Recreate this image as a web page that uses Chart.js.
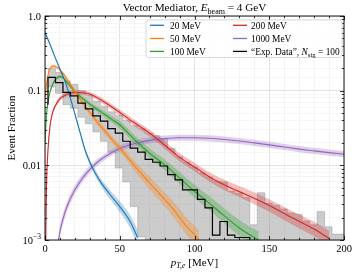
<!DOCTYPE html>
<html><head><meta charset="utf-8">
<script src="https://cdn.jsdelivr.net/npm/chart.js@4/dist/chart.umd.min.js"></script>
<style>html,body{margin:0;padding:0;background:#fff}</style>
</head><body>
<canvas id="c" width="357" height="275" style="width:357px;height:275px;display:block"></canvas>
<script>
// ---------------- data ----------------
const xTicks = [0, 50, 100, 150, 200];
const yTicks = [1, 0.1, 0.01, 0.001];
const yTickLabels = ['1.0', '0.1', '0.01', '10^-3'];

const binEdges = [2,7,12,17,22,27,32,37,42,47,52,57,62,67,72,77,82,87,92,97,102,107,112,117,122,127,132,137,142,147,152,157,162,167,172,177,182,187,192,197,202];
const expStart = 0.065;
const expData = [0.142,0.151,0.128,0.095,0.085,0.068,0.057,0.046,0.039,0.031,0.027,0.021,0.017,0.015,0.012,0.011,0.0098,0.0075,0.0064,0.0047,0.0047,0.0035,0.0027,0.00116,0.00177,0.00116,0.00108];
const grayHi = [0.19,0.20,0.175,0.135,0.122,0.10,0.087,0.072,0.062,0.052,0.047,0.040,0.034,0.031,0.027,0.025,0.023,0.017,0.013,0.011,0.0095,0.0079,0.0070,0.0061,0.0060,0.0045,0.0042,0.0037,0.0016,0.0043,0.0031,0.0029,0.0026,0.0023,0.0022,0.0018,0.0016,0.0024,0.0015,0.0012];
const grayLo = [0.105,0.112,0.092,0.065,0.058,0.044,0.036,0.028,0.021,0.015,0.0092,0.006,0.0028,0.0011,0,0,0,0,0,0,0,0,0,0,0,0,0,0,0,0,0,0,0,0,0,0,0,0,0,0];

const blueX = [0,3.3,6.7,10,13.3,16.7,20,23.3,26.7,30,33.3,36.7,43.3,50,56.7,62];
const blueY = [0.606,0.419,0.281,0.194,0.135,0.0825,0.0489,0.0283,0.0163,0.011,0.0081,0.0062,0.0041,0.0028,0.0018,0.00108];
const blueBand = [0.03,0.03,0.03,0.04,0.04,0.05,0.06,0.07,0.08,0.09,0.10,0.12,0.15,0.18,0.22,0.27];

const orangeX = [0,1,2,3,4.5,6,8,10,12.5,15,17.5,20,25,30,35,40,45,50,55,60,65,70,75,80,85,90,95,100,103];
const orangeY = [0.075,0.12,0.16,0.19,0.21,0.213,0.205,0.19,0.165,0.14,0.117,0.098,0.07,0.051,0.038,0.029,0.022,0.017,0.013,0.0098,0.0075,0.0058,0.0045,0.0035,0.0027,0.002,0.0015,0.00118,0.001];
const orangeBand = [0.05,0.05,0.05,0.05,0.05,0.05,0.05,0.05,0.06,0.06,0.07,0.07,0.08,0.09,0.10,0.11,0.12,0.13,0.15,0.17,0.19,0.21,0.23,0.25,0.27,0.29,0.31,0.33,0.35];

const greenX = [0,1,2,3,5,7.5,10,12.5,15,20,25,30,35,40,45,50,60,70,80,90,100,110,120,130,140,143];
const greenY = [0.02,0.047,0.07,0.09,0.12,0.145,0.154,0.147,0.127,0.097,0.079,0.066,0.056,0.048,0.041,0.035,0.022,0.0145,0.0102,0.0068,0.0045,0.0031,0.0021,0.00145,0.00108,0.001];
const greenBand = [0.05,0.05,0.05,0.05,0.05,0.05,0.05,0.05,0.06,0.06,0.07,0.08,0.09,0.10,0.11,0.12,0.14,0.16,0.18,0.20,0.22,0.24,0.26,0.28,0.30,0.30];

const redX = [0.5,1,2,3.3,5,7.5,10,15,20,25,30,37,45,59,70,81,90,100,112,125,134,150,165,180,190];
const redY = [0.001,0.005,0.016,0.033,0.05,0.066,0.078,0.09,0.095,0.094,0.09,0.076,0.06,0.038,0.027,0.018,0.0128,0.0095,0.0066,0.0049,0.0041,0.0029,0.002,0.0014,0.00105];
const redBand = [0.1,0.1,0.1,0.08,0.07,0.07,0.07,0.07,0.07,0.07,0.07,0.08,0.09,0.10,0.11,0.12,0.13,0.14,0.16,0.18,0.19,0.21,0.23,0.25,0.27];

const purpleX = [9,10,12,15,20,25,30,35,40,50,60,70,80,90,100,110,120,130,140,150,160,170,180,190,200];
const purpleY = [0.001,0.0013,0.0019,0.0029,0.0047,0.0067,0.0088,0.011,0.013,0.0168,0.0196,0.0216,0.0228,0.0234,0.0234,0.023,0.0222,0.0212,0.0200,0.0188,0.0176,0.0165,0.0156,0.0148,0.0141];
const purpleBand = [0.25,0.22,0.2,0.17,0.15,0.13,0.12,0.11,0.1,0.1,0.1,0.1,0.1,0.1,0.1,0.1,0.1,0.1,0.1,0.1,0.1,0.1,0.1,0.1,0.1];

const seriesNames = ['20 MeV','50 MeV','100 MeV','200 MeV','1000 MeV'];
const seriesColors = ['#1f77b4','#ff7f0e','#2ca02c','#d62728','#9467bd'];
const bandColors = ['rgba(31,119,180,0.3)','rgba(255,127,14,0.3)','rgba(44,160,44,0.3)','rgba(214,39,40,0.3)','rgba(148,103,189,0.3)'];

// ---------------- build datasets ----------------
const BOTTOM = 1e-4;
const curves = [[blueX,blueY,blueBand],[orangeX,orangeY,orangeBand],[greenX,greenY,greenBand],[redX,redY,redBand],[purpleX,purpleY,purpleBand]];
const datasets = [];
curves.forEach((c, i) => {
  const [xs, ys, bs] = c;
  datasets.push({type:'line', data: xs.map((x,k)=>({x, y: ys[k]*(1+bs[k])})), borderWidth:0, pointRadius:0,
    backgroundColor: bandColors[i], fill:'+1', cubicInterpolationMode:'monotone', order: 5});
  datasets.push({type:'line', data: xs.map((x,k)=>({x, y: ys[k]/(1+bs[k])})), borderWidth:0, pointRadius:0,
    fill:false, cubicInterpolationMode:'monotone', order: 5});
  datasets.push({type:'line', data: xs.map((x,k)=>({x, y: ys[k]})), borderColor: seriesColors[i], borderWidth:1.1,
    pointRadius:0, fill:false, cubicInterpolationMode:'monotone', order: 2});
});
// gray uncertainty region: stepped upper edge filled down to stepped lower edge
const hiPts = grayHi.map((h,k)=>({x: binEdges[k], y: h}));
hiPts.push({x: binEdges[grayHi.length], y: grayHi[grayHi.length-1]});
const loPts = grayLo.map((l,k)=>({x: binEdges[k], y: l > 0 ? l : BOTTOM}));
loPts.push({x: binEdges[grayLo.length], y: BOTTOM});
datasets.push({type:'line', data: hiPts, stepped:'after', borderColor:'rgba(110,110,110,0.45)', borderWidth:0.7,
  backgroundColor:'rgba(128,128,128,0.4)', fill:'+1', pointRadius:0, order: 10});
datasets.push({type:'line', data: loPts, stepped:'after', borderColor:'rgba(110,110,110,0.45)', borderWidth:0.7,
  fill:false, pointRadius:0, order: 10});
// experimental step line
const stepPts = [{x: binEdges[0], y: expStart}];
expData.forEach((v,k)=>{ stepPts.push({x: binEdges[k], y: v}); });
stepPts.push({x: binEdges[expData.length], y: expData[expData.length-1]});
stepPts.push({x: binEdges[expData.length], y: BOTTOM});
datasets.push({type:'line', data: stepPts, stepped:'after', borderColor:'#000', borderWidth:1.2, pointRadius:0, fill:false, order: 1});

// ---------------- decorations ----------------
const SERIF = '"Liberation Serif","DejaVu Serif",serif';
const F = (s, st) => (st ? st + ' ' : '') + s + 'px ' + SERIF;
function drawRich(ctx, parts, x, y, align) {
  let w = 0;
  parts.forEach(p => { ctx.font = p.f; w += ctx.measureText(p.t).width; });
  let cx = align === 'center' ? x - w/2 : align === 'right' ? x - w : x;
  ctx.textAlign = 'left';
  parts.forEach(p => { ctx.font = p.f; ctx.fillText(p.t, cx, y + (p.dy || 0)); cx += ctx.measureText(p.t).width; });
}
const decor = {
  id: 'decor',
  afterDraw(chart) {
    const ctx = chart.ctx, a = chart.chartArea, xs = chart.scales.x, ys = chart.scales.y;
    ctx.save();
    ctx.fillStyle = '#000'; ctx.strokeStyle = '#000';
    ctx.lineWidth = 0.9;
    ctx.strokeRect(a.left, a.top, a.right - a.left, a.bottom - a.top);
    ctx.lineWidth = 0.8;
    ctx.beginPath();
    for (let v = 0; v <= 200; v += 10) {
      const px = Math.round(xs.getPixelForValue(v)) + 0.5;
      const L = v % 50 === 0 ? 4 : 2.2;
      ctx.moveTo(px, a.bottom); ctx.lineTo(px, a.bottom - L);
      ctx.moveTo(px, a.top); ctx.lineTo(px, a.top + L);
    }
    for (let e = -3; e <= 0; e++) {
      for (let m = 1; m <= 9; m++) {
        const v = m * Math.pow(10, e);
        if (v > 1.0001) break;
        const py = Math.round(ys.getPixelForValue(v)) + 0.5;
        const L = m === 1 ? 4 : 2.2;
        ctx.moveTo(a.left, py); ctx.lineTo(a.left + L, py);
        ctx.moveTo(a.right, py); ctx.lineTo(a.right - L, py);
      }
    }
    ctx.stroke();
    ctx.textBaseline = 'alphabetic';
    xTicks.forEach(v => drawRich(ctx, [{t: String(v), f: F(10.5)}], xs.getPixelForValue(v), 251.5, 'center'));
    yTicks.forEach((v, i) => {
      const lab = yTickLabels[i];
      const py = ys.getPixelForValue(v) + 3.6;
      if (lab.indexOf('^') >= 0) {
        const [b, ex] = lab.split('^');
        drawRich(ctx, [{t: b, f: F(10.5)}, {t: ex.replace('-', '\u2212'), f: F(7.5), dy: -4.5}], a.left - 4, py, 'right');
      } else drawRich(ctx, [{t: lab, f: F(10.5)}], a.left - 4, py, 'right');
    });
    drawRich(ctx, [{t: 'Vector Mediator, ', f: F(11.2)}, {t: 'E', f: F(11.2, 'italic')}, {t: 'beam', f: F(8), dy: 2.2},
      {t: ' = 4 GeV', f: F(11.2)}], (a.left + a.right) / 2, 11.3, 'center');
    drawRich(ctx, [{t: 'p', f: F(11, 'italic')}, {t: 'T,e', f: F(7.8, 'italic'), dy: 2.3}, {t: ' [MeV]', f: F(11)}], (a.left + a.right) / 2, 265.5, 'center');
    ctx.save();
    ctx.translate(12.5, (a.top + a.bottom) / 2);
    ctx.rotate(-Math.PI / 2);
    ctx.textBaseline = 'middle';
    drawRich(ctx, [{t: 'Event Fraction', f: F(11)}], 0, 0, 'center');
    ctx.restore();
    // legend
    const lx0 = 146, ly0 = 20, lx1 = 342, ly1 = 57.5, r = 3;
    ctx.beginPath();
    ctx.moveTo(lx0 + r, ly0); ctx.lineTo(lx1 - r, ly0); ctx.quadraticCurveTo(lx1, ly0, lx1, ly0 + r);
    ctx.lineTo(lx1, ly1 - r); ctx.quadraticCurveTo(lx1, ly1, lx1 - r, ly1); ctx.lineTo(lx0 + r, ly1);
    ctx.quadraticCurveTo(lx0, ly1, lx0, ly1 - r); ctx.lineTo(lx0, ly0 + r); ctx.quadraticCurveTo(lx0, ly0, lx0 + r, ly0);
    ctx.closePath();
    ctx.fillStyle = 'rgba(255,255,255,0.85)'; ctx.fill();
    ctx.strokeStyle = '#d0d0d0'; ctx.lineWidth = 0.8; ctx.stroke();
    const rows = [25.3, 38.5, 51.4];
    const entries = [
      {c: seriesColors[0], col: 0, row: 0, parts: [{t: seriesNames[0]}]},
      {c: seriesColors[1], col: 0, row: 1, parts: [{t: seriesNames[1]}]},
      {c: seriesColors[2], col: 0, row: 2, parts: [{t: seriesNames[2]}]},
      {c: seriesColors[3], col: 1, row: 0, parts: [{t: seriesNames[3]}]},
      {c: seriesColors[4], col: 1, row: 1, parts: [{t: seriesNames[4]}]},
      {c: '#000', col: 1, row: 2, parts: [{t: '\u201CExp. Data\u201D, '}, {t: 'N', it: true}, {t: 'sig', sub: true}, {t: ' = 100'}]}
    ];
    const colLine = [[150, 164], [233, 247]];
    const colText = [170, 251];
    entries.forEach(en => {
      const y = rows[en.row];
      ctx.strokeStyle = en.c; ctx.lineWidth = 1.3;
      ctx.beginPath(); ctx.moveTo(colLine[en.col][0], y); ctx.lineTo(colLine[en.col][1], y); ctx.stroke();
      ctx.fillStyle = '#000';
      drawRich(ctx, en.parts.map(p => ({t: p.t, f: p.sub ? F(6.8) : F(9.4, p.it ? 'italic' : ''), dy: p.sub ? 2 : 0})), colText[en.col], y + 3.2, 'left');
    });
    ctx.restore();
  }
};

new Chart(document.getElementById('c'), {
  type: 'line',
  data: {datasets},
  options: {
    responsive: false, animation: false, devicePixelRatio: 1,
    layout: {padding: {left: 45, right: 13, top: 16, bottom: 35}},
    plugins: {legend: {display: false}, title: {display: false}, tooltip: {enabled: false}},
    scales: {
      x: {type: 'linear', min: 0, max: 200, offset: false,
        ticks: {display: false, stepSize: 10},
        grid: {drawTicks: false, lineWidth: 0.8, color: c => (c.tick && c.tick.value % 50 === 0) ? '#dcdcdc' : '#f0f0f0'},
        border: {display: false}, afterFit: s => { s.height = 0; }},
      y: {type: 'logarithmic', min: 0.001, max: 1,
        ticks: {display: false},
        grid: {drawTicks: false, lineWidth: 0.8, color: c => {
          const v = c.tick ? c.tick.value : 1; const l = Math.log10(v);
          return Math.abs(l - Math.round(l)) < 1e-6 ? '#dcdcdc' : '#f2f2f2'; }},
        border: {display: false}, afterFit: s => { s.width = 0; }}
    }
  },
  plugins: [decor]
});
</script>
</body></html>
